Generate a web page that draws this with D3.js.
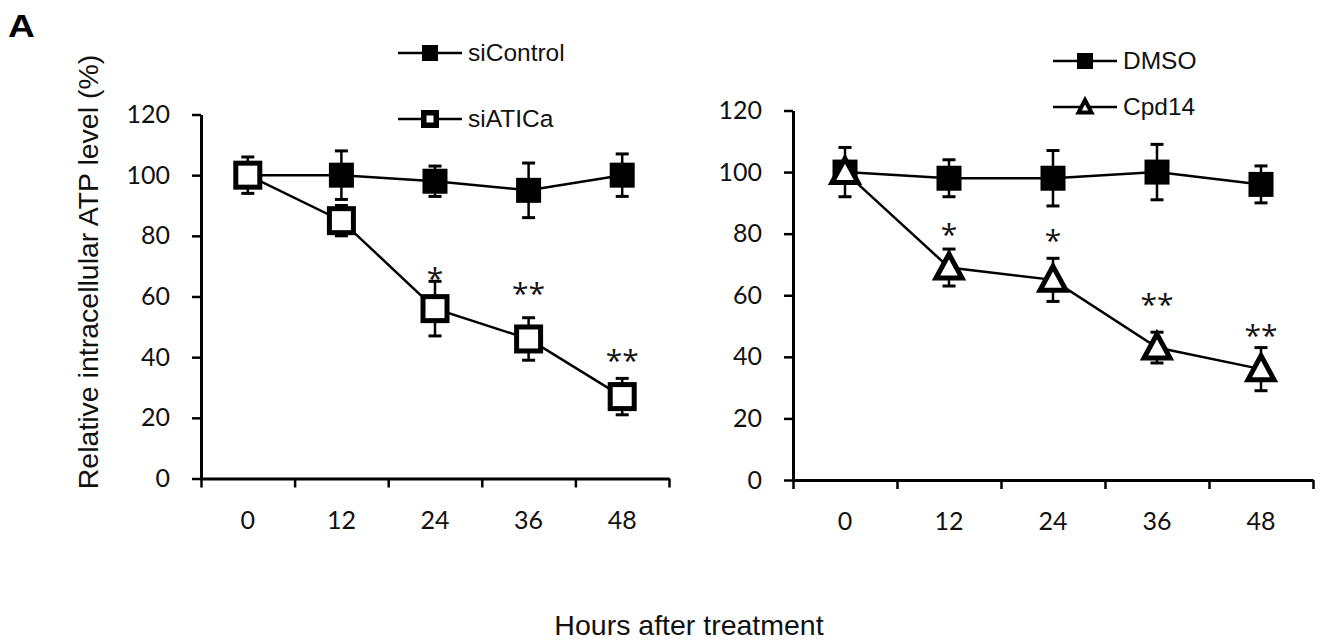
<!DOCTYPE html>
<html>
<head>
<meta charset="utf-8">
<script src="https://cdn.jsdelivr.net/npm/d3@7"></script>
<style>
  body { margin: 0; background: #fff; }
  svg { display: block; }
</style>
</head>
<body>
<div id="chart"></div>
<script>
// values
const hours = ['0', '12', '24', '36', '48'];
const yTicks = [0, 20, 40, 60, 80, 100, 120];

const siControlMean = [100, 100, 98, 95, 100];
const siControlErr = [6, 8, 5, 9, 7];
const siATICaMean = [100, 85, 56, 46, 27];
const siATICaErr = [4, 5, 9, 7, 6];
const siATICaStars = ['', '', '*', '**', '**'];
const siATICaStarLevel = [null, null, 67, 62, 40];

const dmsoMean = [100, 98, 98, 100, 96];
const dmsoErr = [8, 6, 9, 9, 6];
const cpd14Mean = [100, 69, 65, 43, 36];
const cpd14Err = [3, 6, 7, 5, 7];
const cpd14Stars = ['', '*', '*', '**', '**'];
const cpd14StarLevel = [null, 81, 79, 58, 48];

const W = 1323, H = 641;

const svg = d3.select('#chart').append('svg')
  .attr('width', W)
  .attr('height', H);

svg.append('rect').attr('width', W).attr('height', H).attr('fill', '#fff');

// layout of each panel (pixels)
const panels = [
  {
    x0: 201, x1: 669, yTop: 114.5, yBot: 478.5, labelPad: 33,
    legendX: 398, legendY: [53, 119],
    series: [
      { name: 'siControl', mean: siControlMean, err: siControlErr, marker: 'filled' },
      { name: 'siATICa', mean: siATICaMean, err: siATICaErr, marker: 'open',
        stars: siATICaStars, starLevel: siATICaStarLevel }
    ]
  },
  {
    x0: 793, x1: 1313, yTop: 110.5, yBot: 480, labelPad: 32,
    legendX: 1053, legendY: [61, 107],
    series: [
      { name: 'DMSO', mean: dmsoMean, err: dmsoErr, marker: 'filled' },
      { name: 'Cpd14', mean: cpd14Mean, err: cpd14Err, marker: 'triangle',
        stars: cpd14Stars, starLevel: cpd14StarLevel }
    ]
  }
];

const tickFont = 'Lato, "Open Sans", sans-serif';
const starFont = '"Open Sans", Lato, sans-serif';
const textFont = '"Liberation Sans", Arial, sans-serif';

function drawMarker(g, type, big) {
  if (type === 'filled') {
    const s = big ? 22 : 13;
    g.append('rect')
      .attr('x', -s / 2).attr('y', -s / 2)
      .attr('width', s).attr('height', s)
      .attr('fill', '#000').attr('stroke', '#000').attr('stroke-width', 3);
  } else if (type === 'open') {
    const s = big ? 24 : 12.5;
    g.append('rect')
      .attr('x', -s / 2).attr('y', -s / 2)
      .attr('width', s).attr('height', s)
      .attr('fill', '#fff').attr('stroke', '#000')
      .attr('stroke-width', big ? 5 : 5.5);
  } else {
    const t = big ? { top: -13.5, half: 13, base: 10.5 } : { top: -7, half: 6.5, base: 5.5 };
    g.append('path')
      .attr('d', `M0,${t.top}L${t.half},${t.base}L${-t.half},${t.base}Z`)
      .attr('fill', '#fff').attr('stroke', '#000')
      .attr('stroke-width', big ? 5 : 4)
      .attr('stroke-linejoin', 'miter');
  }
}

panels.forEach((p) => {
  const x = d3.scaleBand().domain(hours).range([p.x0, p.x1]);
  const y = d3.scaleLinear().domain([0, 120]).range([p.yBot, p.yTop]);
  const tickPos = d3.scaleLinear().domain([0, hours.length]).range([p.x0, p.x1]);

  // y axis
  const yAxis = svg.append('g')
    .attr('transform', `translate(${p.x0},0)`)
    .call(d3.axisLeft(y).tickValues(yTicks).tickSize(9).tickSizeOuter(0).tickPadding(22));
  yAxis.select('.domain').attr('stroke', '#000').attr('stroke-width', 3);
  yAxis.selectAll('.tick line').attr('stroke', '#000').attr('stroke-width', 2.5);
  yAxis.selectAll('.tick text')
    .attr('font-family', tickFont).attr('font-size', 25).attr('fill', '#111');

  // x axis: boundary ticks like the original, labels centred in each category
  const xAxis = svg.append('g')
    .attr('transform', `translate(0,${p.yBot})`)
    .call(d3.axisBottom(tickPos).tickValues(d3.range(hours.length + 1))
      .tickSize(9).tickSizeOuter(0).tickFormat(''));
  xAxis.select('.domain').attr('stroke', '#000').attr('stroke-width', 3);
  xAxis.selectAll('.tick line').attr('stroke', '#000').attr('stroke-width', 2.5);

  const xLabels = svg.append('g')
    .attr('transform', `translate(0,${p.yBot})`)
    .call(d3.axisBottom(x).tickSize(0).tickPadding(p.labelPad));
  xLabels.select('.domain').remove();
  xLabels.selectAll('.tick text')
    .attr('font-family', tickFont).attr('font-size', 25).attr('fill', '#111');

  const cx = (i) => x(hours[i]) + x.bandwidth() / 2;
  const line = d3.line().x((d, i) => cx(i)).y((d) => y(d));

  p.series.forEach((s) => {
    // error bars
    const eb = svg.append('g');
    s.mean.forEach((m, i) => {
      const lo = y(m - s.err[i]), hi = y(m + s.err[i]);
      eb.append('line')
        .attr('x1', cx(i)).attr('x2', cx(i)).attr('y1', lo).attr('y2', hi)
        .attr('stroke', '#000').attr('stroke-width', 2.5);
      [lo, hi].forEach((yy) => {
        eb.append('line')
          .attr('x1', cx(i) - 6.5).attr('x2', cx(i) + 6.5)
          .attr('y1', yy).attr('y2', yy)
          .attr('stroke', '#000').attr('stroke-width', 3);
      });
    });

    svg.append('path')
      .datum(s.mean)
      .attr('d', line)
      .attr('fill', 'none')
      .attr('stroke', '#000')
      .attr('stroke-width', 2.5);

    s.mean.forEach((m, i) => {
      const g = svg.append('g').attr('transform', `translate(${cx(i)},${y(m)})`);
      drawMarker(g, s.marker, true);
    });

    if (s.stars) {
      s.stars.forEach((st, i) => {
        if (!st) return;
        svg.append('text')
          .attr('x', cx(i))
          .attr('y', y(s.starLevel[i]) + 14)
          .attr('text-anchor', 'middle')
          .attr('font-family', starFont)
          .attr('font-size', 30)
          .attr('fill', '#111')
          .text(st);
      });
    }
  });

  // legend
  p.series.forEach((s, k) => {
    const ly = p.legendY[k];
    const lg = svg.append('g').attr('transform', `translate(${p.legendX},${ly})`);
    lg.append('line')
      .attr('x1', 0).attr('x2', 64).attr('y1', 0).attr('y2', 0)
      .attr('stroke', '#000').attr('stroke-width', 2.5);
    drawMarker(lg.append('g').attr('transform', 'translate(32,0)'), s.marker, false);
    lg.append('text')
      .attr('x', 70).attr('y', 8)
      .attr('font-family', textFont).attr('font-size', 24.5).attr('fill', '#111')
      .text(s.name);
  });
});

// panel letter and shared axis titles
svg.append('text')
  .attr('transform', 'translate(8,37) scale(1.2,1)')
  .attr('font-family', textFont).attr('font-weight', 'bold').attr('font-size', 31)
  .text('A');

svg.append('text')
  .attr('transform', 'translate(98,272) rotate(-90)')
  .attr('text-anchor', 'middle')
  .attr('font-family', textFont).attr('font-size', 28.5).attr('fill', '#111')
  .text('Relative intracellular ATP level (%)');

svg.append('text')
  .attr('x', 689).attr('y', 635)
  .attr('text-anchor', 'middle')
  .attr('font-family', textFont).attr('font-size', 28.5).attr('fill', '#111')
  .text('Hours after treatment');
</script>
</body>
</html>
